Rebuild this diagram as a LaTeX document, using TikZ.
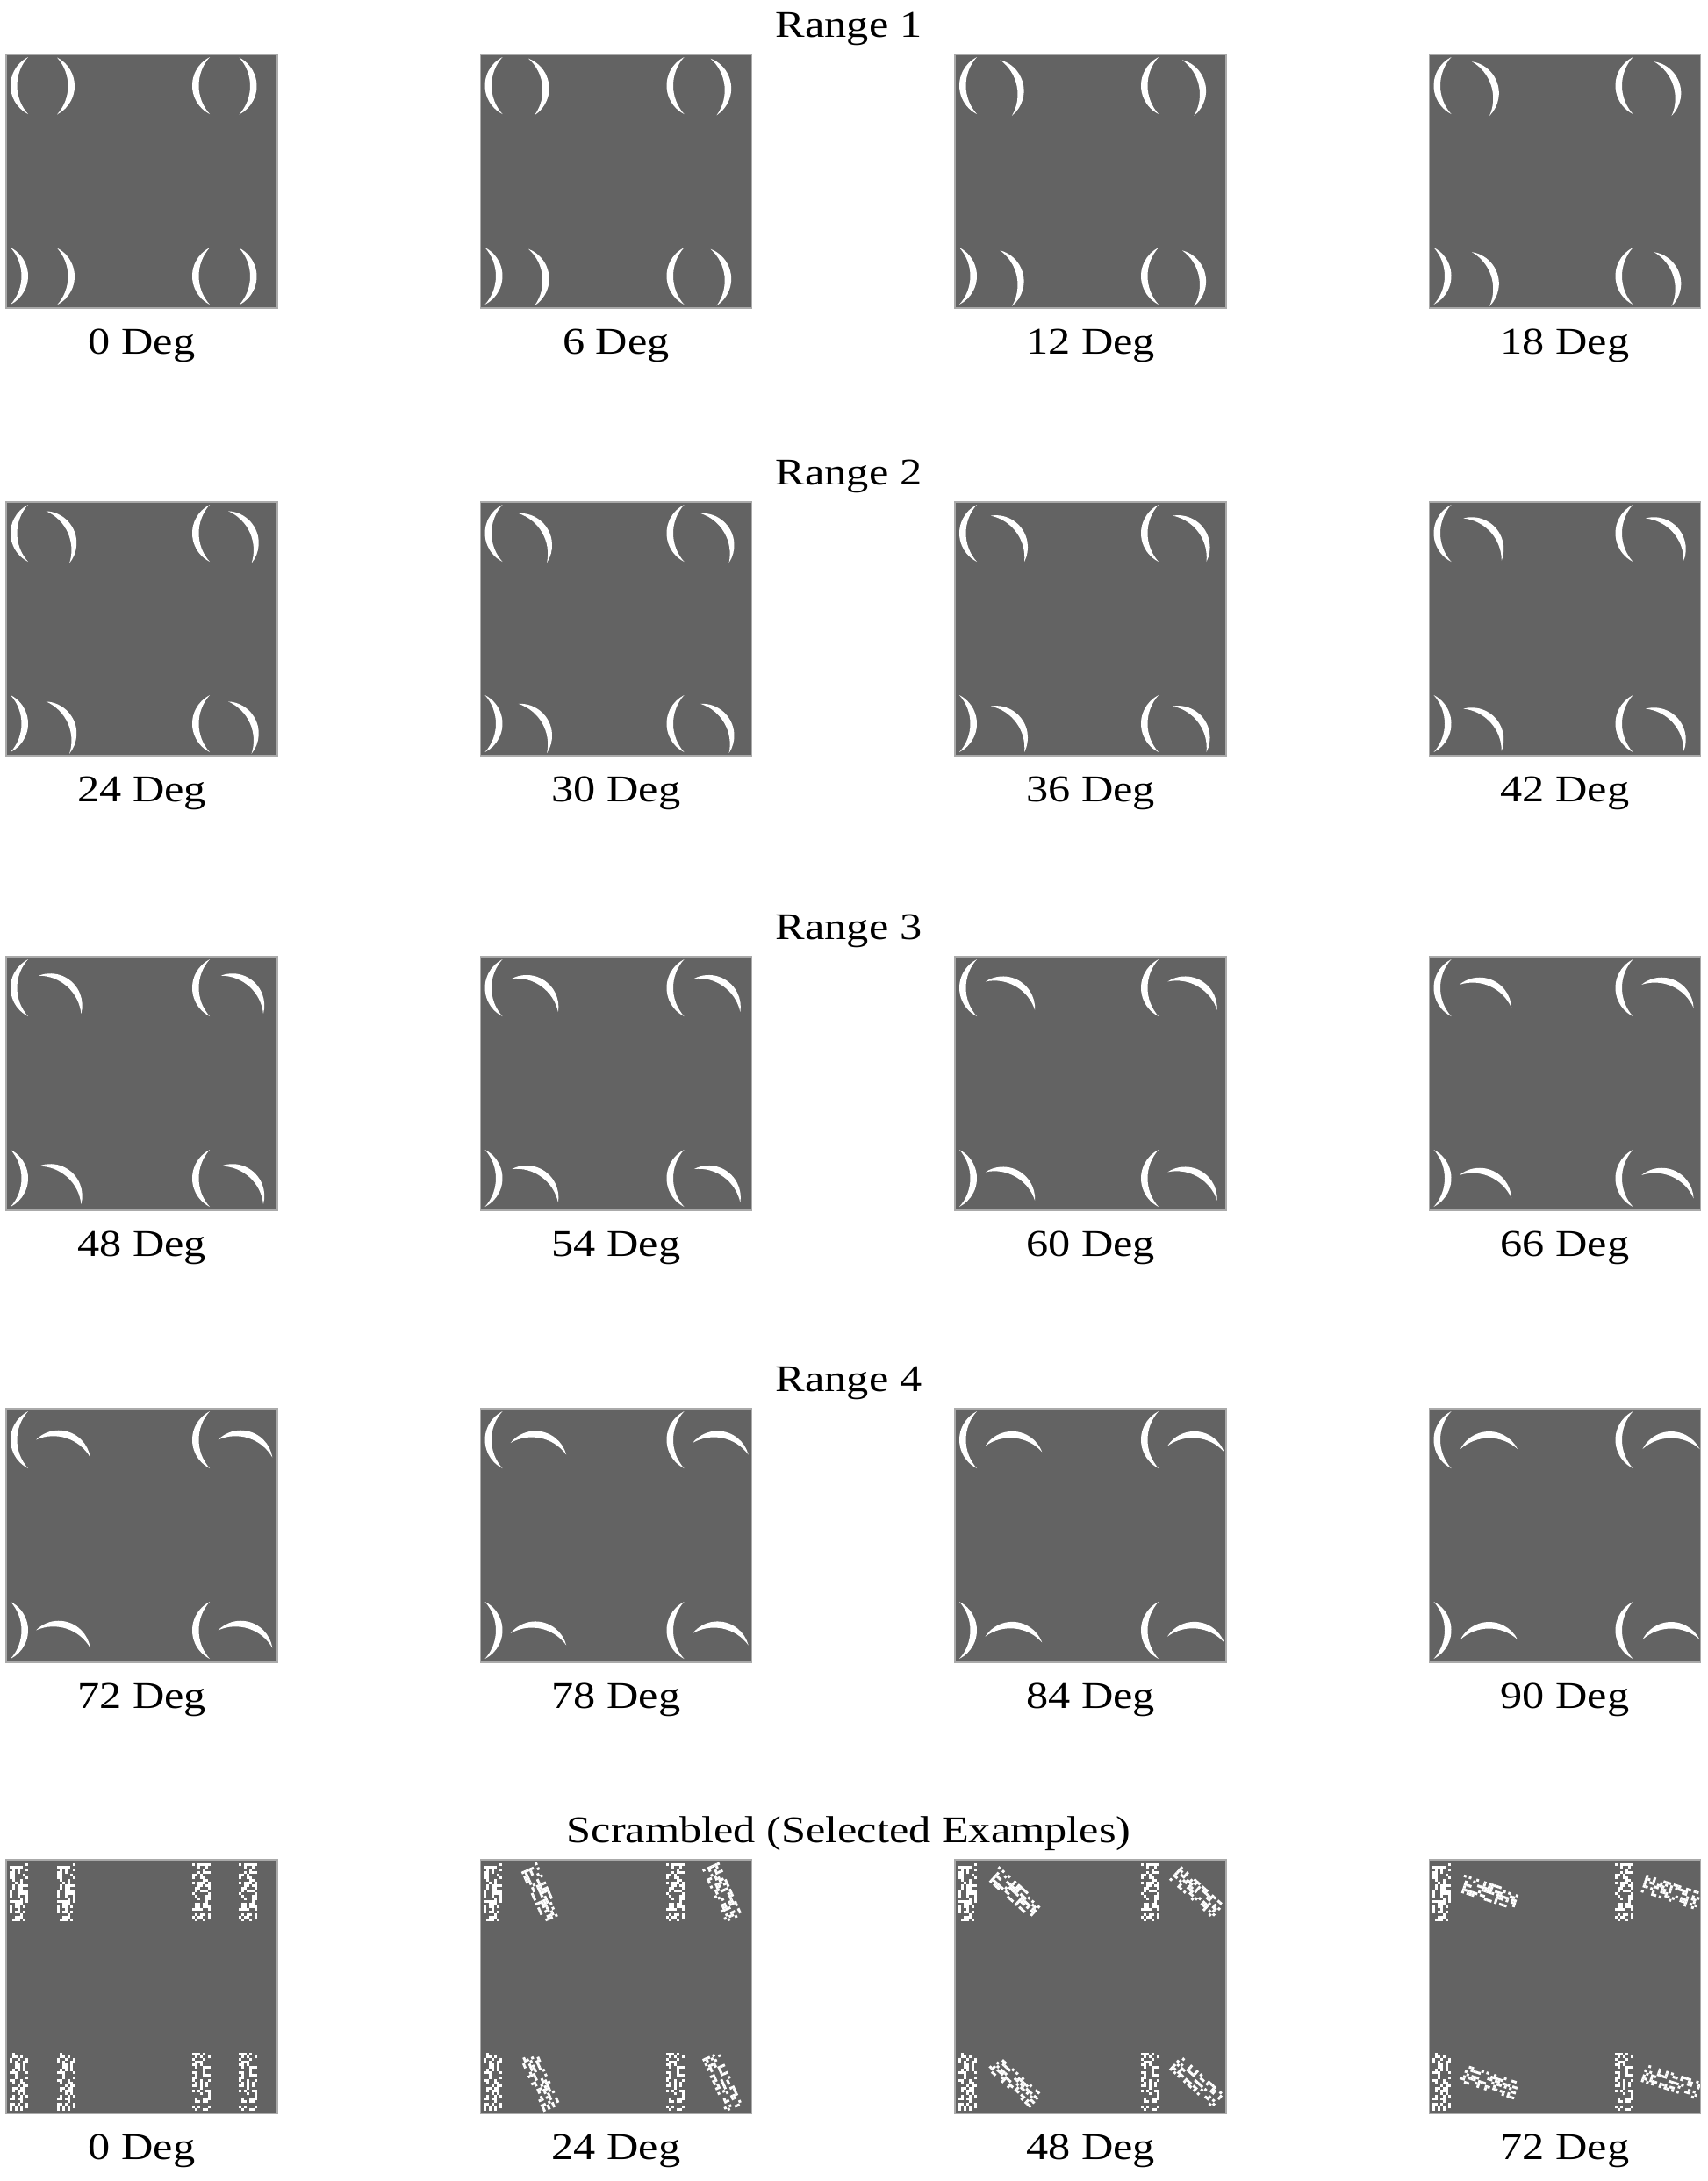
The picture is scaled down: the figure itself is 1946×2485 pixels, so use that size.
\documentclass[tikz,border=0pt]{standalone}
\usepackage{fontspec}
\setmainfont{Liberation Serif}
\definecolor{panelgray}{RGB}{99,99,99}
\definecolor{edgegray}{RGB}{170,170,170}
\tikzset{
  panelbox/.style={fill=panelgray},
  paneledge/.style={draw=edgegray, line width=1.2pt},
  lab/.style={anchor=base, inner sep=0pt, font=\fontsize{43}{50}\selectfont},
  lunefill/.style={fill=white},
}
\newcommand\wide[1]{\scalebox{1.17}[1]{#1}}
% crescent centred at (#1,#2), rotated by #3
\newcommand\lune[3]{%
  \fill[lunefill, shift={(#1,#2)}, rotate=#3]
    (-10,-32.5) arc[start angle=-63.2, end angle=63.2, radius=36.41]
    arc[start angle=42.07, end angle=-42.07, radius=48.5] -- cycle;}
% scrambled strip centred at (#1,#2), rotated by #3, noise seed #4
\newcommand\noisestrip[4]{%
  \pgfmathsetseed{#4}%
  \begin{scope}[shift={(#1,#2)}, rotate=#3]
    \foreach \i in {0,...,6}{\foreach \j in {0,...,21}{%
      \pgfmathtruncatemacro\keep{rnd<0.45}%
      \ifnum\keep=1 \fill[white] ({\i*3-10.5},{\j*3-33}) rectangle ++(3,3);\fi
    }}
  \end{scope}}
% crescent panel: #1 left, #2 top, #3 angle, #4 node name
\newcommand\crpanel[4]{%
  \fill[panelbox] (#1,#2) rectangle ++(309,289);
  \begin{scope}
    \clip (#1,#2) rectangle ++(309,289);
    \lune{#1+15}{#2+35.5}{180}
    \lune{#1+68}{#2+36}{#3}
    \lune{#1+222}{#2+35.5}{180}
    \lune{#1+275.5}{#2+36}{#3}
    \lune{#1+15}{#2+252.5}{0}
    \lune{#1+68}{#2+253}{#3}
    \lune{#1+222}{#2+252.5}{180}
    \lune{#1+275.5}{#2+253}{#3}
  \end{scope}
  \draw[paneledge] (#1,#2) rectangle ++(309,289);
  \node[lab] (#4) at (#1+154.5,#2+341) {\wide{#3 Deg}};}
% scrambled panel
\newcommand\scpanel[4]{%
  \fill[panelbox] (#1,#2) rectangle ++(309,289);
  \begin{scope}
    \clip (#1,#2) rectangle ++(309,289);
    \noisestrip{#1+14}{#2+37}{0}{1101}
    \noisestrip{#1+68}{#2+37}{#3}{1101}
    \noisestrip{#1+222}{#2+37}{0}{2202}
    \noisestrip{#1+275.5}{#2+37}{#3}{2202}
    \noisestrip{#1+14}{#2+253}{0}{3303}
    \noisestrip{#1+68}{#2+253}{#3}{3303}
    \noisestrip{#1+222}{#2+253}{0}{4404}
    \noisestrip{#1+275.5}{#2+253}{#3}{4404}
  \end{scope}
  \draw[paneledge] (#1,#2) rectangle ++(309,289);
  \node[lab] (#4) at (#1+154.5,#2+341) {\wide{#3 Deg}};}
\begin{document}
\begin{tikzpicture}[x=1pt,y=-1pt]
\useasboundingbox (0,0) rectangle (1946,2485);
% titles
\node[lab] (t1) at (967,42) {\wide{Range 1}};
\node[lab] (t2) at (967,552) {\wide{Range 2}};
\node[lab] (t3) at (967,1070) {\wide{Range 3}};
\node[lab] (t4) at (967,1585) {\wide{Range 4}};
\node[lab] (t5) at (967,2099) {\wide{Scrambled (Selected Examples)}};
% Range 1
\crpanel{7}{62}{0}{a1}
\crpanel{547.5}{62}{6}{a2}
\crpanel{1088}{62}{12}{a3}
\crpanel{1628.5}{62}{18}{a4}
% Range 2
\crpanel{7}{572}{24}{b1}
\crpanel{547.5}{572}{30}{b2}
\crpanel{1088}{572}{36}{b3}
\crpanel{1628.5}{572}{42}{b4}
% Range 3
\crpanel{7}{1090}{48}{c1}
\crpanel{547.5}{1090}{54}{c2}
\crpanel{1088}{1090}{60}{c3}
\crpanel{1628.5}{1090}{66}{c4}
% Range 4
\crpanel{7}{1605}{72}{d1}
\crpanel{547.5}{1605}{78}{d2}
\crpanel{1088}{1605}{84}{d3}
\crpanel{1628.5}{1605}{90}{d4}
% Scrambled
\scpanel{7}{2119}{0}{e1}
\scpanel{547.5}{2119}{24}{e2}
\scpanel{1088}{2119}{48}{e3}
\scpanel{1628.5}{2119}{72}{e4}
\end{tikzpicture}
\end{document}
